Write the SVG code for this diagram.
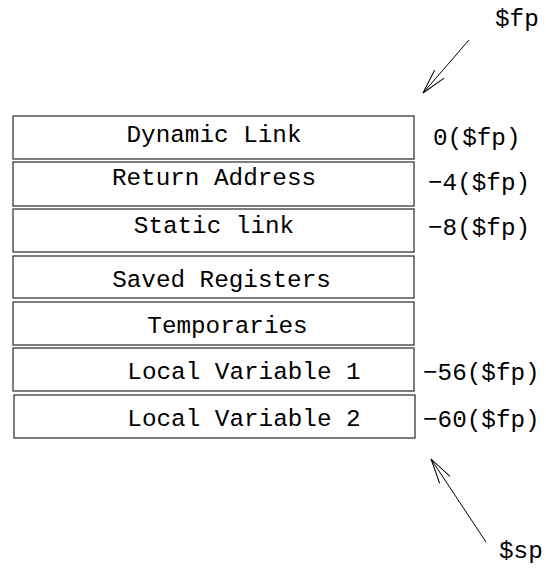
<svg xmlns="http://www.w3.org/2000/svg" width="546" height="575" viewBox="0 0 546 575">
  <style>
    .box { fill: #ffffff; stroke: #3a3a3a; stroke-width: 1.3; }
    .t { font-family: "Liberation Mono", "DejaVu Sans Mono", monospace; font-size: 24.3px; fill: #000000; }
    .c { text-anchor: middle; }
    .arrow { stroke: #000000; stroke-width: 1; fill: none; }
  </style>
  <defs>
    <marker id="open-arrow" markerUnits="userSpaceOnUse" markerWidth="30" markerHeight="20" viewBox="-27 -10 30 20" refX="0" refY="0" orient="auto">
      <path d="M -25 -6.2 L 0 0 L -25 6.2" fill="none" stroke="#000000" stroke-width="1"/>
    </marker>
  </defs>
  <rect width="546" height="575" fill="#ffffff"/>

  <!-- stack frame slots, top to bottom -->
  <g id="dynamic-link">
    <rect class="box" x="13" y="116" width="401" height="43"/>
    <text class="t c" x="214" y="142">Dynamic Link</text>
  </g>
  <g id="return-address">
    <rect class="box" x="13" y="162" width="401" height="44"/>
    <text class="t c" x="214" y="185">Return Address</text>
  </g>
  <g id="static-link">
    <rect class="box" x="13" y="209" width="401" height="43"/>
    <text class="t c" x="214" y="233">Static link</text>
  </g>
  <g id="saved-registers">
    <rect class="box" x="13" y="256" width="401" height="42"/>
    <text class="t c" x="221.5" y="287">Saved Registers</text>
  </g>
  <g id="temporaries">
    <rect class="box" x="13" y="302" width="401" height="43"/>
    <text class="t c" x="227.5" y="333">Temporaries</text>
  </g>
  <g id="local-variable-1">
    <rect class="box" x="13" y="348" width="401" height="43"/>
    <text class="t c" x="244" y="379">Local Variable 1</text>
  </g>
  <g id="local-variable-2">
    <rect class="box" x="14" y="395" width="401" height="43"/>
    <text class="t c" x="244" y="426">Local Variable 2</text>
  </g>

  <!-- offsets relative to the frame pointer -->
  <g id="offsets">
    <text class="t" x="433" y="145">0($fp)</text>
    <text class="t" x="428" y="190">−4($fp)</text>
    <text class="t" x="428" y="235">−8($fp)</text>
    <text class="t" x="423" y="380">−56($fp)</text>
    <text class="t" x="423" y="427">−60($fp)</text>
  </g>

  <g id="pointer-fp">
    <text class="t" x="495" y="26">$fp</text>
  </g>
  <g id="pointer-sp">
    <text class="t" x="499" y="558">$sp</text>
  </g>

  <g id="connectors">
    <line class="arrow" x1="469" y1="40" x2="423" y2="93" marker-end="url(#open-arrow)"/>
    <line class="arrow" x1="486" y1="542" x2="431" y2="459" marker-end="url(#open-arrow)"/>
  </g>
</svg>
